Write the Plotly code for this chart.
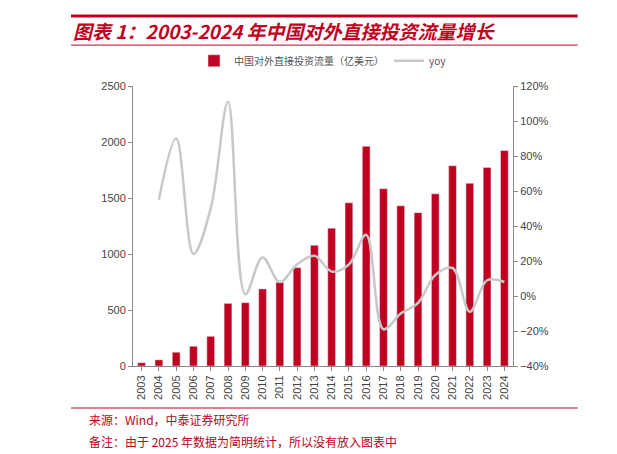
import plotly.graph_objects as go

years = [str(y) for y in range(2003, 2025)]
flow = [29, 55, 123, 176, 265, 559, 565, 688, 747, 878, 1078, 1231, 1457, 1961,
        1583, 1430, 1369, 1537, 1788, 1631, 1773, 1923]
yoy_years = years[1:]
yoy = [55, 90, 24, 50, 111, 1, 22, 8, 18, 23, 14, 18, 35, -19, -10, -4, 12, 16, -9, 9, 8]

RED = "#c00020"
fig = go.Figure()
fig.add_trace(go.Bar(x=years, y=flow, name="中国对外直接投资流量（亿美元）",
                     marker_color=RED, width=0.45))
fig.add_trace(go.Scatter(x=yoy_years, y=yoy, name="yoy", yaxis="y2", mode="lines",
                         line=dict(color="#c8c8c8", width=2.5, shape="spline", smoothing=1.0)))

axfont = dict(family="Liberation Sans, Arial", size=11, color="#444")
fig.update_layout(
    width=617, height=454, plot_bgcolor="white", paper_bgcolor="white",
    margin=dict(l=125, r=112, t=78, b=96, autoexpand=False),
    font=dict(family="Noto Sans CJK SC", size=11, color="#444"),
    showlegend=True, bargap=0.5,
    legend=dict(orientation="h", x=0.5, xanchor="center", y=1.09, yanchor="middle",
                font=dict(size=10, color="#555")),
    xaxis=dict(type="category", tickangle=-90, tickfont=axfont, showline=True,
               linecolor="#888", ticks="outside", ticklen=4, tickcolor="#888"),
    yaxis=dict(range=[0, 2500], dtick=500, tickfont=axfont, showgrid=False, showline=True,
               linecolor="#888", ticks="outside", ticklen=4, tickcolor="#888", zeroline=False),
    yaxis2=dict(range=[-40, 120], dtick=20, ticksuffix="%", overlaying="y", side="right",
                tickfont=axfont, showgrid=False, showline=True, linecolor="#888",
                ticks="outside", ticklen=4, tickcolor="#888", zeroline=False),
)

shapes = [
    dict(type="line", xref="paper", yref="paper", x0=-0.163, x1=1.17, y0=1.25, y1=1.25,
         line=dict(color=RED, width=3)),
    dict(type="line", xref="paper", yref="paper", x0=-0.163, x1=1.17, y0=1.146, y1=1.146,
         line=dict(color=RED, width=1)),
    dict(type="line", xref="paper", yref="paper", x0=-0.163, x1=1.17, y0=-0.15, y1=-0.15,
         line=dict(color=RED, width=1)),
]
fig.update_layout(shapes=shapes)
fig.add_annotation(text="<b><i>图表 1：2003-2024 年中国对外直接投资流量增长</i></b>",
                   xref="paper", yref="paper", x=-0.163, y=1.198, xanchor="left", yanchor="middle",
                   showarrow=False, font=dict(size=19, color=RED, family="Noto Sans CJK SC"))
fig.add_annotation(text="来源：Wind，中泰证券研究所", xref="paper", yref="paper",
                   x=-0.12, y=-0.19, xanchor="left", yanchor="middle", showarrow=False,
                   font=dict(size=12, color=RED))
fig.add_annotation(text="备注：由于 2025 年数据为简明统计，所以没有放入图表中", xref="paper", yref="paper",
                   x=-0.12, y=-0.27, xanchor="left", yanchor="middle", showarrow=False,
                   font=dict(size=12, color=RED))

fig.write_html("out.html")
